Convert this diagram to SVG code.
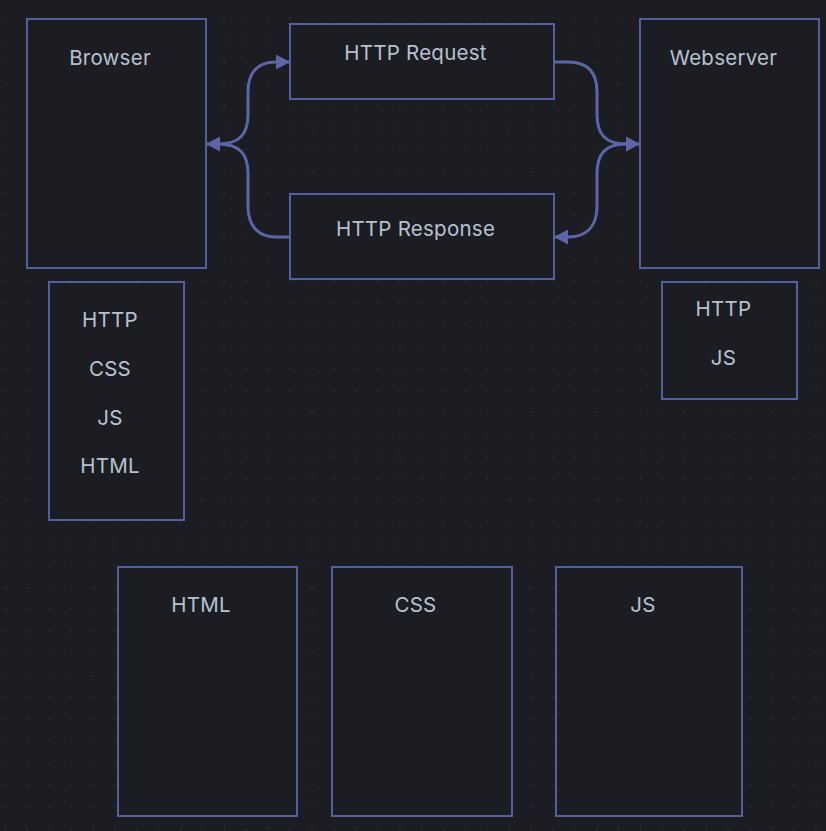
<svg xmlns="http://www.w3.org/2000/svg" width="826" height="831" viewBox="0 0 826 831">
  <style>
    .box { fill: #1b1d23; stroke: #545f9f; stroke-width: 2; }
    .lbl { font-family: Inter, "Noto Sans", "Liberation Sans", sans-serif; font-size: 20.5px; letter-spacing: 0.25px; fill: #b7c2d0; text-anchor: middle; }
    .edge { fill: none; stroke: #5b66a8; stroke-width: 3; marker-end: url(#arrow); }
  </style>
  <defs>
    <pattern id="dots" patternUnits="userSpaceOnUse" x="0" y="0" width="21.9" height="21.9">
      <circle cx="5.5" cy="18.3" r="0.9" fill="#2b2e37"/>
    </pattern>
    <marker id="arrow" viewBox="0 0 14 15" refX="14" refY="7.5" markerWidth="14" markerHeight="15" markerUnits="userSpaceOnUse" orient="auto">
      <path d="M0,0 L14,7.5 L0,15 Z" fill="#5b66a8"/>
    </marker>
  </defs>
  <rect width="826" height="831" fill="#1b1d23"/>
  <rect width="826" height="831" fill="url(#dots)"/>

  <g id="connectors">
    <path class="edge" d="M206,144 L218,144 C240,144 248,134 248,114 L248,92 C248,72 258,62 276,62 L290,62"/>
    <path class="edge" d="M290,237 L276,237 C258,237 248,226 248,206 L248,174 C248,154 240,144 218,144 L206,144"/>
    <path class="edge" d="M554,62 L568,62 C587,62 597,72 597,92 L597,114 C597,134 605,144 626,144 L640,144"/>
    <path class="edge" d="M640,144 L626,144 C605,144 597,154 597,174 L597,206 C597,226 587,237 568,237 L554,237"/>
  </g>

  <g id="browser">
    <rect class="box" x="27" y="19" width="179" height="249"/>
    <text class="lbl" x="110" y="65">Browser</text>
  </g>
  <g id="http-request">
    <rect class="box" x="290" y="24" width="264" height="75"/>
    <text class="lbl" x="415.5" y="60">HTTP Request</text>
  </g>
  <g id="http-response">
    <rect class="box" x="290" y="194" width="264" height="85"/>
    <text class="lbl" x="415.5" y="236">HTTP Response</text>
  </g>
  <g id="webserver">
    <rect class="box" x="640" y="19" width="179" height="249"/>
    <text class="lbl" x="723.5" y="65">Webserver</text>
  </g>
  <g id="browser-list">
    <rect class="box" x="49" y="282" width="135" height="238"/>
    <text class="lbl" x="110" y="327">HTTP</text>
    <text class="lbl" x="110" y="376">CSS</text>
    <text class="lbl" x="110" y="424.5">JS</text>
    <text class="lbl" x="110" y="473">HTML</text>
  </g>
  <g id="webserver-list">
    <rect class="box" x="662" y="282" width="135" height="117"/>
    <text class="lbl" x="723.5" y="316">HTTP</text>
    <text class="lbl" x="723.5" y="364.5">JS</text>
  </g>
  <g id="html">
    <rect class="box" x="118" y="567" width="179" height="249"/>
    <text class="lbl" x="201" y="612">HTML</text>
  </g>
  <g id="css">
    <rect class="box" x="332" y="567" width="180" height="249"/>
    <text class="lbl" x="415.5" y="612">CSS</text>
  </g>
  <g id="js">
    <rect class="box" x="556" y="567" width="186" height="249"/>
    <text class="lbl" x="643" y="612">JS</text>
  </g>
</svg>
